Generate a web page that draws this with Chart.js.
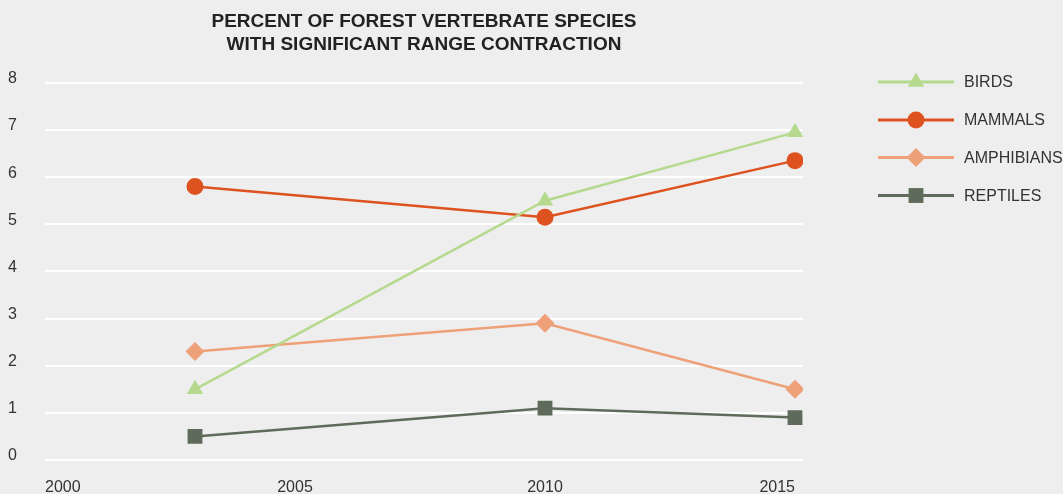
<!DOCTYPE html>
<html>
<head>
<meta charset="utf-8">
<script src="https://cdn.jsdelivr.net/npm/chart.js@4/dist/chart.umd.min.js"></script>
<style>
  body { margin: 0; background: #eeeeee; }
  #wrap { width: 1063px; height: 494px; }
</style>
</head>
<body>
<div id="wrap"><canvas id="lineChart" width="1063" height="494"></canvas></div>
<script>
// years on the x axis
const years = [2003, 2010, 2015];
const birds = [1.5, 5.5, 6.95];
const mammals = [5.8, 5.15, 6.35];
const amphibians = [2.3, 2.9, 1.5];
const reptiles = [0.5, 1.1, 0.9];
const seriesNames = ["BIRDS", "MAMMALS", "AMPHIBIANS", "REPTILES"];
const titleLines = ["PERCENT OF FOREST VERTEBRATE SPECIES", "WITH SIGNIFICANT RANGE CONTRACTION"];

const FONT = "'Liberation Sans', Arial, Helvetica, sans-serif";

const toPoints = (vals) => vals.map((v, i) => ({ x: years[i], y: v }));

const makeSet = (label, vals, color, style, radius) => ({
  label: label,
  data: toPoints(vals),
  borderColor: color,
  backgroundColor: color,
  borderWidth: 2.5,
  pointStyle: style,
  pointRadius: radius,
  pointHoverRadius: radius,
  pointBorderWidth: 0,
  tension: 0,
});

// legend drawn by hand: line with marker in the middle, then label
const sideLegend = {
  id: "sideLegend",
  afterDraw(chart) {
    const ctx = chart.ctx;
    const x0 = 878, x1 = 954, mx = 916, tx = 964;
    const rowY = [82, 120, 157.5, 195.5];
    chart.data.datasets.forEach((ds, i) => {
      const y = rowY[i];
      ctx.save();
      ctx.strokeStyle = ds.borderColor;
      ctx.lineWidth = 3;
      ctx.beginPath();
      ctx.moveTo(x0, y);
      ctx.lineTo(x1, y);
      ctx.stroke();
      ctx.fillStyle = ds.backgroundColor;
      const r = ds.pointRadius;
      ctx.beginPath();
      if (ds.pointStyle === "circle") {
        ctx.arc(mx, y, r, 0, Math.PI * 2);
      } else if (ds.pointStyle === "triangle") {
        ctx.moveTo(mx, y - r);
        ctx.lineTo(mx + r * 0.866, y + r * 0.5);
        ctx.lineTo(mx - r * 0.866, y + r * 0.5);
        ctx.closePath();
      } else if (ds.pointStyle === "rectRot") {
        ctx.moveTo(mx, y - r);
        ctx.lineTo(mx + r, y);
        ctx.lineTo(mx, y + r);
        ctx.lineTo(mx - r, y);
        ctx.closePath();
      } else {
        const h = r * Math.SQRT1_2;
        ctx.rect(mx - h, y - h, h * 2, h * 2);
      }
      ctx.fill();
      ctx.fillStyle = "#333333";
      ctx.font = "16px " + FONT;
      ctx.textBaseline = "middle";
      ctx.textAlign = "left";
      ctx.fillText(ds.label, tx, y + 1);
      ctx.restore();
    });
  },
};

new Chart(document.getElementById("lineChart").getContext("2d"), {
  type: "line",
  data: {
    datasets: [
      makeSet(seriesNames[0], birds, "#b5d98d", "triangle", 9.5),
      makeSet(seriesNames[1], mammals, "#dd521f", "circle", 8.5),
      makeSet(seriesNames[2], amphibians, "#eea078", "rectRot", 9.5),
      makeSet(seriesNames[3], reptiles, "#5e6a5a", "rect", 10.5),
    ],
  },
  options: {
    responsive: false,
    animation: false,
    layout: { padding: { left: 8, right: 260, top: 0, bottom: 0 } },
    plugins: {
      legend: { display: false },
      tooltip: { enabled: false },
      title: {
        display: true,
        text: titleLines,
        fullSize: false,
        color: "#222222",
        font: { family: FONT, size: 19, weight: "bold", lineHeight: 1.18 },
        padding: { top: 11, bottom: 27 },
      },
    },
    scales: {
      x: {
        type: "linear",
        min: 2000,
        max: 2015.16,
        border: { display: false },
        grid: { display: false, drawTicks: false },
        ticks: {
          stepSize: 5,
          includeBounds: false,
          align: "inner",
          maxRotation: 0,
          padding: 18,
          color: "#333333",
          font: { family: FONT, size: 16 },
          callback: (v) => String(v),
        },
        afterFit: (scale) => { scale.height = 34; },
      },
      y: {
        min: 0,
        max: 8,
        border: { display: false },
        grid: { color: "#ffffff", lineWidth: 2, drawTicks: false },
        ticks: {
          stepSize: 1,
          crossAlign: "far",
          labelOffset: -4,
          color: "#333333",
          font: { family: FONT, size: 16 },
        },
        afterFit: (scale) => { scale.width = 37; },
      },
    },
  },
  plugins: [sideLegend],
});
</script>
</body>
</html>
